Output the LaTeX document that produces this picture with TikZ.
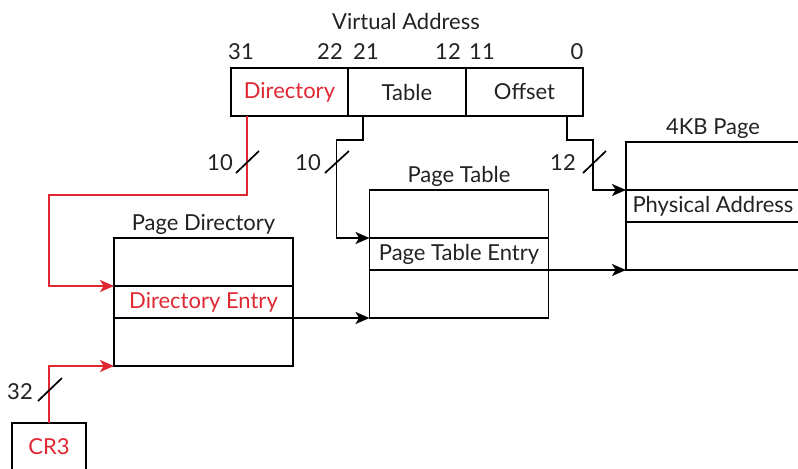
\documentclass[tikz,border=0pt]{standalone}
\usepackage{fontspec}
\setmainfont{Lato}
\usetikzlibrary{positioning,arrows.meta}
\definecolor{addrred}{RGB}{224,40,50}
\definecolor{inkgray}{RGB}{34,34,34}

\begin{document}
\begin{tikzpicture}[x=0.5pt,y=-0.5pt,line width=0.85pt,
    font=\fontsize{11}{13}\selectfont,text=inkgray,
    cell/.style={draw,inner sep=0pt,outer sep=0pt,minimum width=89.5pt},
    tall/.style={cell,minimum height=24pt},
    thin/.style={cell,minimum height=16pt},
    field/.style={cell,minimum width=58.75pt,minimum height=24pt},
    title/.style={inner sep=0pt},
    wire/.style={-{Stealth[length=7pt,width=6pt,inset=1.8pt]}},
    redwire/.style={wire,draw=addrred}]
  \useasboundingbox (0,0) rectangle (798,468);

  % virtual address
  \node[title] at (406,21) {Virtual Address};
  \node[field,text=addrred] (dir) at (289.5,92) {Directory};
  \node[field,right=0pt of dir] (tab) {Table};
  \node[field,right=0pt of tab] (off) {Offset};
  \draw
    (241,52) node[title] (b31){31}
    (330,52) node[title] (b22){22}
    (366,52) node[title] (b21){21}
    (448,52) node[title] (b12){12}
    (482,52) node[title] (b11){11}
    (577,52) node[title] (b0){0};

  % tables
  \node[tall] (pd1) at (203.5,262) {};
  \node[thin,below=0pt of pd1,text=addrred] (pde) {Directory Entry};
  \node[tall,below=0pt of pde] (pd3) {};
  \node[title,above=1.5pt of pd1] (pdt) {Page Directory};

  \node[tall] (pt1) at (459,214) {};
  \node[thin,below=0pt of pt1] (pte) {Page Table Entry};
  \node[tall,below=0pt of pte] (pt3) {};
  \node[title,above=1.5pt of pt1] (ptt) {Page Table};

  \node[tall,minimum width=87pt] (pg1) at (713,166) {};
  \node[thin,minimum width=87pt,below=0pt of pg1] (pa) {Physical Address};
  \node[tall,minimum width=87pt,below=0pt of pa] (pg3) {};
  \node[title,above=1.5pt of pg1] (pgt) {4KB Page};

  \node[cell,minimum width=37pt,minimum height=24pt,text=addrred] (cr3) at (49,447) {CR3};

  % connectors
  \draw[redwire] ([xshift=8pt]dir.south west) -- ++(0,79)
    -| ([xshift=-32.5pt]pde.north west) -- (pde.north west);
  \draw[redwire] (cr3.north) |- (pd3.south west);
  \draw[wire] ([xshift=7.5pt]tab.south west) -- ++(0,24)
    -| ([xshift=-16.5pt]pte.north west) -- (pte.north west);
  \draw[wire] ([xshift=-8pt]off.south east) -- ++(0,24)
    -| ([xshift=-16.5pt]pa.north west) -- (pa.north west);
  \draw[wire] (pde.south east) -- (pt3.south west);
  \draw[wire] (pte.south east) -- (pg3.south west);

  % bus widths
  \draw (236,173) -- (259,151) (220,163) node[title] (w1){10};
  \draw (325,173) -- (349,151) (308,163) node[title] (w2){10};
  \draw (583,173) -- (606,151) (563,163) node[title] (w3){12};
  \draw (38,401) -- (62,378) (20,392) node[title] (w4){32};
\end{tikzpicture}
\end{document}
